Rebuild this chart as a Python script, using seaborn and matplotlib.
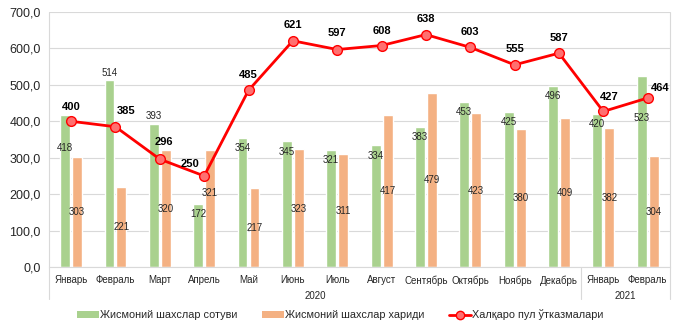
import numpy as np
import pandas as pd
import matplotlib
matplotlib.use("Agg")
import matplotlib.pyplot as plt
import seaborn as sns
from matplotlib.lines import Line2D
from matplotlib.patches import Patch

months = ["Январь", "Февраль", "Март", "Апрель", "Май", "Июнь", "Июль", "Август",
          "Сентябрь", "Октябрь", "Ноябрь", "Декабрь", "Январь", "Февраль"]
years = ["2020", "2021"]
year_counts = [12, 2]
sales = [418, 514, 393, 172, 354, 345, 321, 334, 383, 453, 425, 496, 420, 523]
purchases = [303, 221, 320, 321, 217, 323, 311, 417, 479, 423, 380, 409, 382, 304]
transfers = [400, 385, 296, 250, 485, 621, 597, 608, 638, 603, 555, 587, 427, 464]
s_sales = "Жисмоний шахслар сотуви"
s_purch = "Жисмоний шахслар хариди"
s_trans = "Халқаро пул ўтказмалари"
yticks = [0, 100, 200, 300, 400, 500, 600, 700]

# label placement (data-value heights for bar labels, pixel offsets for line labels)
sales_lab_y = [327, 533, 415, 146, 327, 316, 294, 305, 357, 426, 398, 470, 393, 409]
purch_lab_y = [151, 110, 159, 203, 107, 159, 155, 209, 239, 209, 190, 203, 190, 151]
trans_dx = [0, 11, 4, -14, 0, 0, 0, 0, 0, 0, 0, 0, 6, 13]
trans_dy = [14, 16, 17, 12, 15, 16, 17, 15, 16, 15, 16, 15, 14, 10]

GREEN = "#A9D18E"
ORANGE = "#F4B183"
RED = "#FF0000"

sns.set_theme(style="white")
plt.rcParams["font.family"] = ["Liberation Sans", "DejaVu Sans"]

n = len(months)
keys = [str(i) for i in range(n)]
df = pd.DataFrame({
    "key": keys * 2,
    "value": sales + purchases,
    "series": [s_sales] * n + [s_purch] * n,
})

fig = plt.figure(figsize=(6.8, 3.29), dpi=100)
ax = fig.add_axes([0.072, 0.1884, 0.913, 0.7751])

sns.barplot(data=df, x="key", y="value", hue="series", order=keys,
            hue_order=[s_sales, s_purch], palette=[GREEN, ORANGE],
            width=0.54, gap=0.17, ax=ax, legend=False, saturation=1, errorbar=None)

xs = np.arange(n)
sns.lineplot(x=xs, y=transfers, ax=ax, color=RED, linewidth=2.0, marker="o",
             markersize=7, markerfacecolor="#FF7070", markeredgecolor=RED,
             markeredgewidth=1.0, zorder=5)

off = 0.135
for i in range(n):
    ax.text(i - off, sales_lab_y[i], str(sales[i]), ha="center", va="center",
            fontsize=7, color="#262626", zorder=6)
    ax.text(i + off, purch_lab_y[i], str(purchases[i]), ha="center", va="center",
            fontsize=7, color="#262626", zorder=6)
    ax.annotate(str(transfers[i]), (i, transfers[i]),
                xytext=(trans_dx[i] * 0.72, trans_dy[i] * 0.72),
                textcoords="offset points", ha="center", va="center",
                fontsize=8, fontweight="bold", color="#000000", zorder=7)

ax.set_xlim(-0.5, n - 0.5)
ax.set_ylim(0, 700)
ax.set_yticks(yticks)
ax.set_yticklabels([f"{v:.1f}".replace(".", ",") for v in yticks], fontsize=9, color="#262626")
ax.set_xticks(xs)
ax.set_xticklabels(months, fontsize=7, color="#262626")
ax.tick_params(axis="x", length=0, pad=6)
ax.tick_params(axis="y", length=0, pad=6)
ax.set_xlabel("")
ax.set_ylabel("")
ax.grid(axis="y", color="#D9D9D9", linewidth=0.8)
ax.set_axisbelow(True)
for sp in ["top", "right", "left"]:
    ax.spines[sp].set_visible(False)
ax.spines["bottom"].set_color("#D9D9D9")
ax.spines["bottom"].set_linewidth(0.8)

# group axis lines and year labels
trans = ax.get_xaxis_transform()
y_bot = -0.125
bounds = [-0.5]
for c in year_counts:
    bounds.append(bounds[-1] + c)
for b in bounds:
    ax.plot([b, b], [1.0 if b in (bounds[0], bounds[-1]) else 0.0, y_bot],
            transform=trans, color="#D9D9D9", linewidth=0.8, clip_on=False)
for k, yr in enumerate(years):
    ax.text((bounds[k] + bounds[k + 1]) / 2, -0.113, yr, transform=trans,
            ha="center", va="center", fontsize=7, color="#262626")

handles = [Patch(facecolor=GREEN, edgecolor="none"),
           Patch(facecolor=ORANGE, edgecolor="none"),
           Line2D([0], [0], color=RED, linewidth=2.0, marker="o", markersize=6,
                  markerfacecolor="#FF7070", markeredgecolor=RED)]
fig.legend(handles, [s_sales, s_purch, s_trans], loc="center", ncol=3,
           bbox_to_anchor=(0.5, 0.043), frameon=False, fontsize=7.8,
           handlelength=2.0, handleheight=0.7, handletextpad=0.1, columnspacing=2.3)

fig.savefig("out.png", dpi=100, facecolor="white")
